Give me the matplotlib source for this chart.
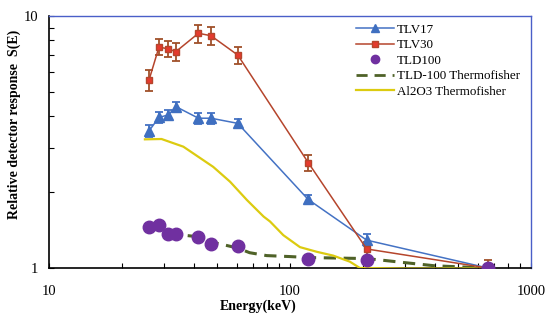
import matplotlib
matplotlib.use("Agg")
import matplotlib.pyplot as plt
from matplotlib.lines import Line2D
from matplotlib.ticker import LogLocator, NullFormatter, FixedLocator, FixedFormatter

# Energies (keV) of the measured points
energy = [26, 28.6, 31.3, 33.6, 41.7, 47, 60.7, 119, 208, 662]

tlv17 = [3.5, 3.96, 4.05, 4.37, 3.93, 3.93, 3.75, 1.87, 1.29, 1.0]
tlv17_err = [0.2, 0.2, 0.2, 0.2, 0.2, 0.2, 0.15, 0.08, 0.07, 0.04]

tlv30 = [5.57, 7.53, 7.4, 7.22, 8.54, 8.35, 7.0, 2.62, 1.19, 1.0]
tlv30_err = [0.55, 0.55, 0.55, 0.6, 0.7, 0.7, 0.55, 0.2, 0.08, 0.08]

tld100 = [1.45, 1.48, 1.37, 1.37, 1.33, 1.25, 1.22, 1.09, 1.08, 1.0]

# Manufacturer curves
tld_tf_e = [26, 29, 31.3, 33.6, 41.7, 47, 60.7, 68, 80, 100, 120, 208, 250, 300, 400, 662]
tld_tf_v = [1.45, 1.42, 1.38, 1.36, 1.33, 1.27, 1.2, 1.15, 1.12, 1.11, 1.10, 1.09, 1.07, 1.05, 1.02, 1.0]

al2o3_e = [25, 29.3, 36.1, 48, 56.4, 66.3, 77.7, 82.6, 93.8, 110, 129, 151, 177, 195, 300, 662]
al2o3_v = [3.24, 3.25, 3.03, 2.52, 2.2, 1.86, 1.6, 1.53, 1.35, 1.21, 1.16, 1.12, 1.06, 1.0, 0.995, 0.995]

labels = ["TLV17", "TLV30", "TLD100", "TLD-100 Thermofisher", "Al2O3 Thermofisher"]

serif = "Liberation Serif"
c17, c30, c100, cdash, cyel = "#4472C4", "#B5452C", "#7030A0", "#4F6228", "#DCCB10"

fig = plt.figure(figsize=(5.5, 3.23), dpi=100)
ax = fig.add_axes([49 / 550, 1 - 268 / 323, (531 - 49) / 550, (268 - 16) / 323])

ax.errorbar(energy, tlv17, yerr=tlv17_err, color=c17, lw=1.1, marker="^",
            ms=7, mfc="#3F6FC0", mec="#3F6FC0", ecolor=c17, elinewidth=1.3,
            capsize=3, capthick=1.3, zorder=4)
ax.errorbar(energy, tlv30, yerr=tlv30_err, color=c30, lw=1.1, marker="s",
            ms=5, mfc="#E53A2E", mec=c30, ecolor="#A0502A", elinewidth=1.3,
            capsize=3, capthick=1.3, zorder=4)
ax.plot(energy, tld100, ls="none", marker="o", ms=9, color=c100, zorder=5)
ax.plot(tld_tf_e, tld_tf_v, ls=(0, (4, 2.5)), lw=2.2, color=cdash, zorder=3)
ax.plot(al2o3_e, al2o3_v, lw=1.6, color=cyel, zorder=3)

ax.set_xscale("log")
ax.set_yscale("log")
ax.set_xlim(10, 1000)
ax.set_ylim(1, 10)

ax.xaxis.set_major_locator(FixedLocator([10, 100, 1000]))
ax.xaxis.set_major_formatter(FixedFormatter(["10", "100", "1000"]))
ax.xaxis.set_minor_locator(LogLocator(base=10, subs=range(2, 10)))
ax.xaxis.set_minor_formatter(NullFormatter())
ax.yaxis.set_major_locator(FixedLocator([1, 10]))
ax.yaxis.set_major_formatter(FixedFormatter(["1", "10"]))
ax.yaxis.set_minor_locator(LogLocator(base=10, subs=range(2, 10)))
ax.yaxis.set_minor_formatter(NullFormatter())

ax.tick_params(which="both", direction="in", length=3.5, width=0.8, top=False, right=False,
               labelsize=10.5)
ax.tick_params(axis="x", pad=12)
ax.tick_params(axis="y", pad=8)
for lbl in ax.get_xticklabels() + ax.get_yticklabels():
    lbl.set_fontfamily(serif)

for s in ("left", "bottom"):
    ax.spines[s].set_color("black")
    ax.spines[s].set_linewidth(1.2)
for s in ("top", "right"):
    ax.spines[s].set_color("#4A5FC8")
    ax.spines[s].set_linewidth(1.0)

ax.set_xlabel("Energy(keV)", fontfamily=serif, fontweight="bold", fontsize=10)
ax.set_ylabel("Relative detector response  S(E)", fontfamily=serif, fontweight="bold",
              fontsize=10)
ax.xaxis.set_label_coords(0.434, -0.125)
ax.yaxis.set_label_coords(-0.058, 0.57)

handles = [
    Line2D([], [], color=c17, lw=1.1, marker="^", ms=6, mfc="#3F6FC0", mec="#3F6FC0"),
    Line2D([], [], color=c30, lw=1.1, marker="s", ms=5, mfc="#E53A2E", mec=c30),
    Line2D([], [], ls="none", marker="o", ms=6, color=c100),
    Line2D([], [], ls=(0, (4, 2.5)), lw=2.0, color=cdash),
    Line2D([], [], lw=1.6, color=cyel),
]
ax.legend(handles, labels, loc="upper left", bbox_to_anchor=(0.62, 1.0), frameon=False,
          prop={"family": serif, "size": 9.4}, handlelength=2.9, handletextpad=0.25,
          labelspacing=0.25, borderaxespad=0.2)

fig.savefig("out.png", dpi=100)
